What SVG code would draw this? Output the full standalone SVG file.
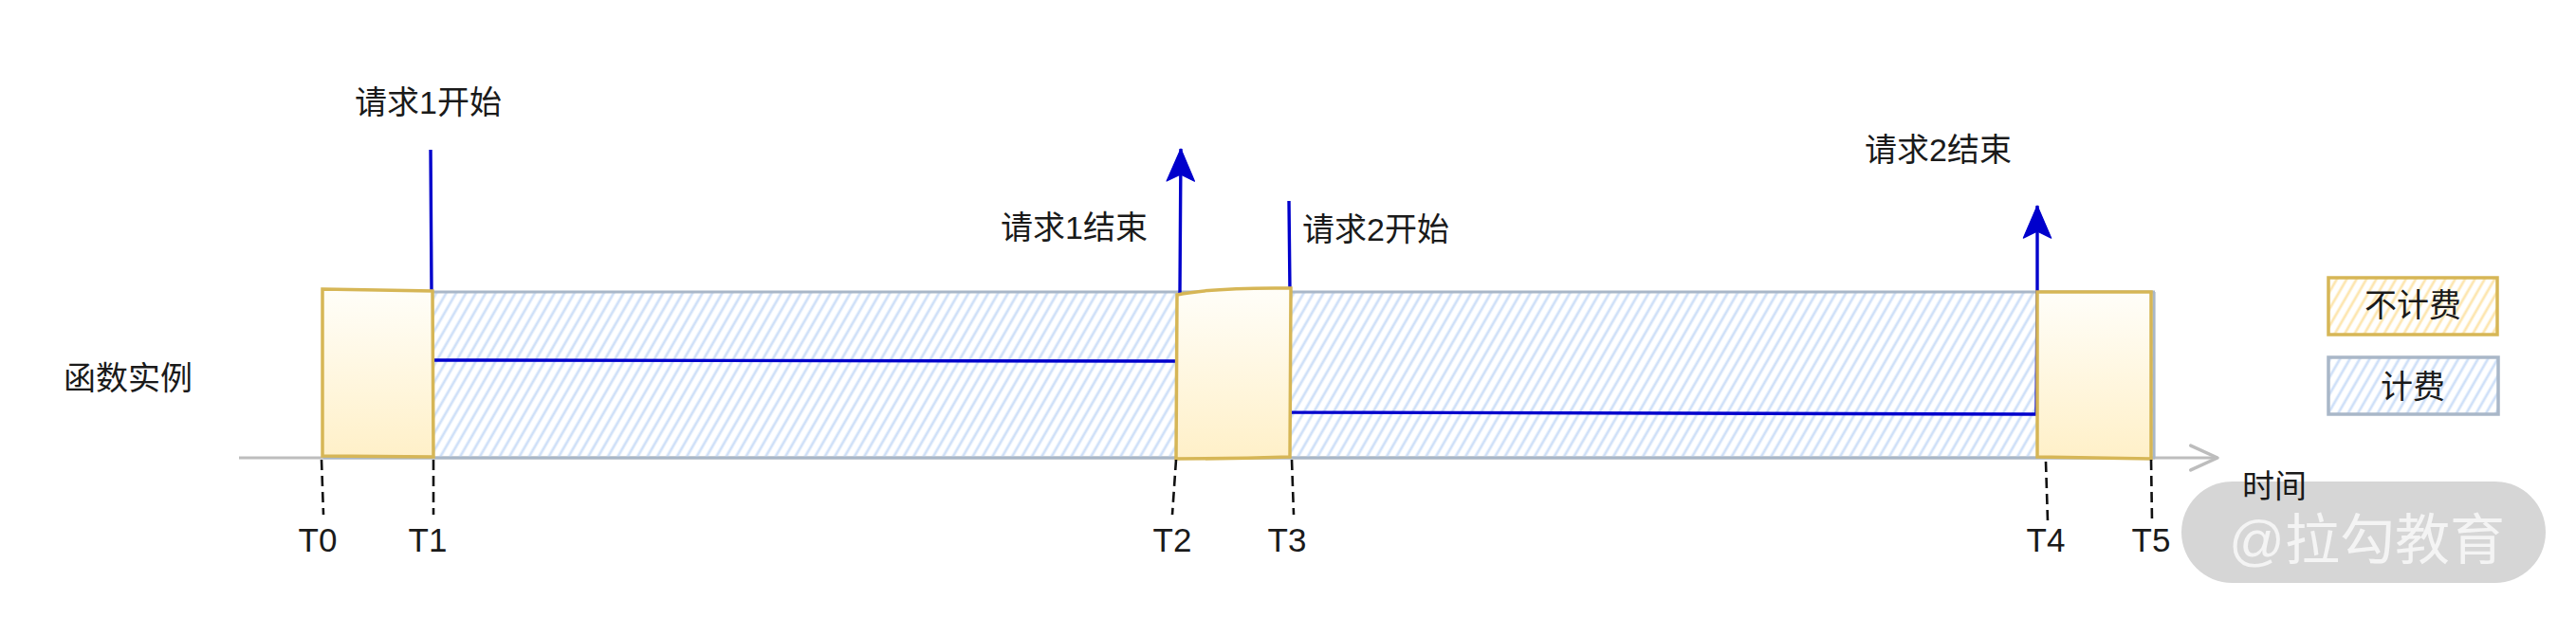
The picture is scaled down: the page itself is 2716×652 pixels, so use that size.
<svg xmlns="http://www.w3.org/2000/svg" width="2716" height="652" viewBox="0 0 2716 652">
<defs>
  <style>
    text { font-family: "Liberation Sans", "Noto Sans CJK SC", sans-serif; fill: #1a1a1a; }
    .lbl { font-size: 34px; }
    .tl { font-size: 35px; text-anchor: middle; }
    .wm { font-size: 58px; fill: #f4f4f4; }
    .req { fill: none; stroke: #0000cc; stroke-width: 3.4; stroke-linejoin: round; }
    .free { stroke: #d6b656; stroke-width: 3.5; }
    .tick { fill: none; stroke: #111; stroke-width: 2.6; stroke-dasharray: 11 6; }
  </style>
  <pattern id="hatchBlue" patternUnits="userSpaceOnUse" width="9" height="40" patternTransform="rotate(30)">
    <line x1="4" y1="0" x2="4" y2="40" stroke="#cfe0f8" stroke-width="2.8"/>
  </pattern>
  <pattern id="hatchYellow" patternUnits="userSpaceOnUse" width="9" height="40" patternTransform="rotate(30)">
    <line x1="4" y1="0" x2="4" y2="40" stroke="#fde6b0" stroke-width="2.8"/>
  </pattern>
  <linearGradient id="boxGrad" x1="0" y1="0" x2="0" y2="1">
    <stop offset="0" stop-color="#fffef9"/>
    <stop offset="1" stop-color="#fff0c8"/>
  </linearGradient>
  <marker id="arrowBlue" markerUnits="userSpaceOnUse" markerWidth="40" markerHeight="40" viewBox="-2 -16 34 32" refX="29" refY="0" orient="auto" overflow="visible">
    <path d="M0,-12.5 L29,0 L0,12.5 L6,0 Z" fill="#0000cc" stroke="#0000cc" stroke-width="1" stroke-linejoin="round"/>
  </marker>
  <marker id="arrowGrey" markerUnits="userSpaceOnUse" markerWidth="40" markerHeight="40" viewBox="-2 -16 34 32" refX="26" refY="0" orient="auto" overflow="visible">
    <path d="M2,-11 L26,0 L2,11" fill="none" stroke="#bdbdbd" stroke-width="3" stroke-linejoin="round" stroke-linecap="round"/>
  </marker>
</defs>
<rect width="2716" height="652" fill="#ffffff"/>

<g id="watermark">
  <rect x="2300" y="508" width="384" height="107" rx="53.5" fill="#d6d6d6"/>
  <text class="wm" x="2350" y="590">@拉勾教育</text>
</g>

<g id="axis">
  <line x1="252" y1="483" x2="2338" y2="483" stroke="#bdbdbd" stroke-width="3" marker-end="url(#arrowGrey)"/>
  <text class="lbl" x="2364" y="525">时间</text>
</g>

<g id="billed-band">
  <rect x="341" y="308" width="1930" height="175" fill="url(#hatchBlue)"/>
  <line x1="341" y1="308" x2="2272" y2="308" stroke="#a9b7c8" stroke-width="3.2"/>
  <line x1="341" y1="483" x2="2272" y2="483" stroke="#a9b7c8" stroke-width="3.2"/>
  <line x1="2271" y1="308" x2="2271" y2="483" stroke="#a9b7c8" stroke-width="3.2"/>
</g>

<g id="label-instance">
  <text class="lbl" x="67" y="411">函数实例</text>
</g>

<g id="connectors">
  <path class="req" d="M454,158 L455,308 L455,380 L1243,381 L1244,308 L1245,157" marker-end="url(#arrowBlue)"/>
  <path class="req" d="M1359,212 L1360,308 L1360,435 L2147,437 L2148,308 L2148,217" marker-end="url(#arrowBlue)"/>
</g>

<g id="box-idle-1">
  <path class="free" d="M340,305 L456,307 L457,482 L340,481 Z" fill="url(#boxGrad)"/>
</g>
<g id="box-idle-2">
  <path class="free" d="M1241,311 Q1280,303 1361,304 L1360,482 Q1300,484 1240,484 Z" fill="url(#boxGrad)"/>
</g>
<g id="box-idle-3">
  <path class="free" d="M2148,308 L2268,308 L2268,484 L2148,482 Z" fill="url(#boxGrad)"/>
</g>

<g id="req1-start-label"><text class="lbl" x="374" y="120">请求1开始</text></g>
<g id="req1-end-label"><text class="lbl" x="1055" y="252">请求1结束</text></g>
<g id="req2-start-label"><text class="lbl" x="1373" y="254">请求2开始</text></g>
<g id="req2-end-label"><text class="lbl" x="1966" y="170">请求2结束</text></g>

<g id="ticks">
  <line class="tick" x1="339" y1="485" x2="341" y2="543"/>
  <line class="tick" x1="457" y1="485" x2="457" y2="543"/>
  <line class="tick" x1="1240" y1="485" x2="1236" y2="543"/>
  <line class="tick" x1="1362" y1="485" x2="1364" y2="543"/>
  <line class="tick" x1="2157" y1="487" x2="2159" y2="550"/>
  <line class="tick" x1="2268" y1="485" x2="2269" y2="550"/>
</g>

<g id="t0"><text class="tl" x="335" y="582">T0</text></g>
<g id="t1"><text class="tl" x="451" y="582">T1</text></g>
<g id="t2"><text class="tl" x="1236" y="582">T2</text></g>
<g id="t3"><text class="tl" x="1357" y="582">T3</text></g>
<g id="t4"><text class="tl" x="2157" y="582">T4</text></g>
<g id="t5"><text class="tl" x="2268" y="582">T5</text></g>

<g id="legend-free">
  <rect x="2455" y="293" width="178" height="60" fill="url(#hatchYellow)" stroke="#d6b656" stroke-width="3.5"/>
  <text class="lbl" x="2544" y="334" text-anchor="middle">不计费</text>
</g>
<g id="legend-billed">
  <rect x="2455" y="377" width="179" height="60" fill="url(#hatchBlue)" stroke="#a9b7c8" stroke-width="3.5"/>
  <text class="lbl" x="2544" y="420" text-anchor="middle">计费</text>
</g>
</svg>
